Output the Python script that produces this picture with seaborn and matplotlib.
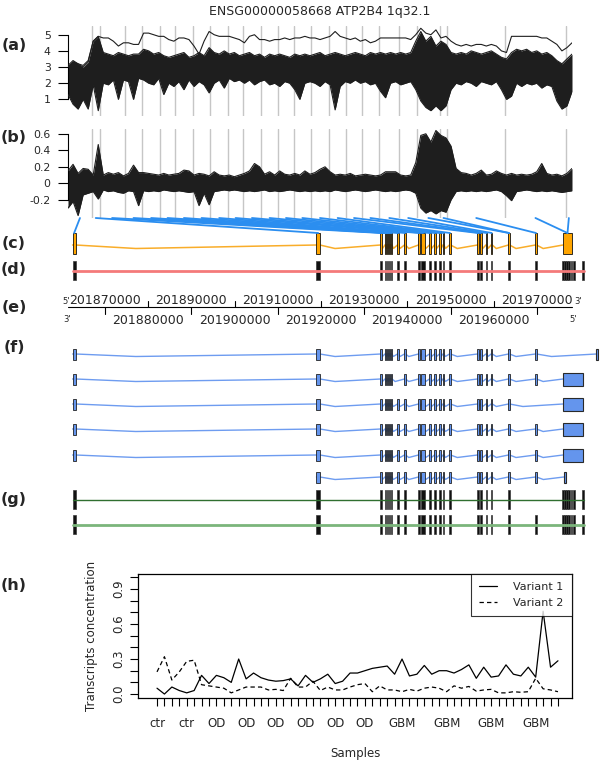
import numpy as np
import pandas as pd
import seaborn as sns
import matplotlib.pyplot as plt
from matplotlib.patches import Rectangle, ConnectionPatch

TITLE = "ENSG00000058668 ATP2B4 1q32.1"
PANEL_TAGS = ["(a)", "(b)", "(c)", "(d)", "(e)", "(f)", "(g)", "(h)"]

# --- (a) probe level signal: envelope of the sample curves + the one high sample
probe_pos = list(range(0, 201, 2))
sig_upper = [3.1, 3.4, 3.2, 3.0, 3.3, 4.6, 4.9, 3.9, 3.8, 3.7,
             3.9, 3.8, 3.7, 3.8, 3.8, 4.1, 4.0, 3.8, 3.9, 3.7,
             3.6, 3.7, 3.8, 3.9, 3.6, 3.7, 3.9, 3.7, 4.2, 3.9,
             3.8, 4.0, 3.8, 3.9, 3.7, 3.8, 3.9, 3.7, 3.8, 3.6,
             3.8, 3.7, 3.8, 3.7, 3.6, 3.8, 3.7, 3.8, 3.7, 3.8,
             3.9, 3.7, 3.8, 3.9, 3.8, 3.7, 3.8, 3.9, 3.8, 3.7,
             3.9, 3.8, 3.9, 3.8, 3.9, 3.8, 3.9, 3.8, 3.9, 4.6,
             5.2, 4.6, 4.9, 4.3, 4.6, 4.4, 3.9, 3.8, 3.9, 3.8,
             4.0, 3.9, 3.8, 3.9, 4.0, 3.8, 3.6, 3.5, 3.9, 4.1,
             4.0, 4.1, 3.9, 4.0, 3.8, 3.9, 3.7, 3.4, 3.2, 3.5,
             3.8]
sig_lower = [1.3, 0.7, 0.4, 1.0, 0.4, 1.9, 0.3, 2.0, 1.9, 2.2,
             1.0, 2.2, 2.1, 1.0, 2.3, 2.2, 2.0, 1.9, 2.3, 1.3,
             2.0, 1.8, 2.1, 1.6, 2.2, 1.8, 2.1, 1.9, 1.4, 2.0,
             2.2, 1.7, 2.3, 2.1, 2.2, 2.0, 2.2, 1.9, 2.1, 2.2,
             1.9, 2.0, 1.8, 2.1, 2.0, 1.6, 1.0, 2.0, 2.1, 2.0,
             1.8, 2.1, 1.9, 0.35, 1.8, 2.1, 2.0, 2.2, 2.0, 2.1,
             1.9, 2.0, 1.5, 1.1, 2.0, 2.1, 1.9, 2.0, 2.1, 1.6,
             0.9, 0.5, 0.3, 0.6, 0.3, 0.6, 1.6, 2.0, 1.9, 2.1,
             2.0, 1.8, 2.1, 2.0, 1.9, 2.1, 1.6, 1.0, 1.2, 2.0,
             1.8, 2.0, 1.9, 2.0, 1.7, 1.9, 1.8, 0.9, 0.4, 0.6,
             1.5]
sig_high = [3.0, 3.3, 3.2, 3.1, 3.4, 4.6, 4.9, 4.8, 4.8, 4.6,
            4.3, 4.5, 4.5, 4.4, 4.4, 5.1, 5.1, 5.0, 4.9, 4.9,
            4.7, 4.6, 4.8, 4.8, 4.7, 4.3, 3.8, 4.6, 5.2, 5.0,
            4.9, 4.9, 4.9, 4.8, 4.7, 4.5, 4.9, 5.0, 4.7, 4.7,
            4.6, 4.7, 4.7, 4.8, 4.7, 4.8, 4.8, 4.9, 4.8, 4.8,
            4.7, 4.8, 4.9, 5.2, 4.9, 4.8, 4.7, 4.8, 4.6, 4.7,
            4.5, 4.6, 4.8, 4.8, 4.8, 4.8, 4.8, 4.8, 4.7, 5.0,
            5.4, 5.1, 5.0, 5.3, 4.8, 4.9, 4.6, 4.4, 4.3, 4.4,
            4.3, 4.4, 4.4, 4.3, 4.4, 4.3, 4.0, 3.9, 4.9, 4.9,
            4.9, 4.9, 4.9, 4.9, 4.8, 4.8, 4.6, 4.4, 4.0, 4.2,
            4.5]

# --- (b) residuals: envelope of the sample curves
res_upper = [0.15, 0.23, 0.12, 0.18, 0.17, 0.10, 0.47, 0.10, 0.13, 0.11,
             0.13, 0.09, 0.12, 0.22, 0.13, 0.13, 0.12, 0.11, 0.10, 0.12,
             0.10, 0.11, 0.12, 0.16, 0.15, 0.10, 0.12, 0.11, 0.09, 0.14,
             0.10, 0.09, 0.10, 0.08, 0.10, 0.12, 0.15, 0.24, 0.20, 0.11,
             0.14, 0.10, 0.15, 0.11, 0.10, 0.12, 0.10, 0.15, 0.11, 0.13,
             0.17, 0.20, 0.14, 0.10, 0.11, 0.10, 0.12, 0.09, 0.10, 0.11,
             0.10, 0.09, 0.10, 0.14, 0.14, 0.14, 0.10, 0.09, 0.10, 0.25,
             0.58, 0.60, 0.50, 0.64, 0.58, 0.55, 0.45, 0.18, 0.13, 0.12,
             0.10, 0.12, 0.16, 0.10, 0.11, 0.15, 0.12, 0.10, 0.12, 0.10,
             0.11, 0.10, 0.11, 0.14, 0.24, 0.12, 0.10, 0.11, 0.09, 0.12,
             0.18]
res_lower = [-0.30, -0.22, -0.39, -0.14, -0.12, -0.10, -0.19, -0.08, -0.10, -0.09,
             -0.11, -0.12, -0.09, -0.10, -0.27, -0.09, -0.10, -0.09, -0.10, -0.08,
             -0.09, -0.10, -0.09, -0.10, -0.11, -0.10, -0.27, -0.12, -0.26, -0.10,
             -0.09, -0.08, -0.09, -0.08, -0.09, -0.10, -0.09, -0.10, -0.09, -0.08,
             -0.10, -0.09, -0.10, -0.09, -0.08, -0.09, -0.10, -0.09, -0.10, -0.09,
             -0.10, -0.09, -0.10, -0.08, -0.09, -0.10, -0.09, -0.08, -0.09, -0.10,
             -0.09, -0.08, -0.09, -0.10, -0.09, -0.10, -0.09, -0.08, -0.09, -0.12,
             -0.30, -0.36, -0.33, -0.37, -0.33, -0.35, -0.20, -0.10, -0.09, -0.10,
             -0.09, -0.10, -0.09, -0.10, -0.09, -0.08, -0.10, -0.15, -0.21, -0.10,
             -0.09, -0.08, -0.09, -0.10, -0.09, -0.10, -0.09, -0.10, -0.11, -0.10,
             -0.09]

# probe-index boundaries between exons (grey lines in a/b)
exon_bounds = [9.5, 12.5, 22.5, 29.5, 36.5, 42.5, 49.5, 56.5, 63.5, 69.5, 76.5, 83.5,
               89.5, 96.5, 103.5, 110.5, 116.5, 123.5, 131.5, 138.5, 147.5, 150.5,
               173.5, 197.5]
n_probes = 200

# --- genomic exon model (chr1, NCBI36)
gen_window = (201861435, 201978111)
gen_ticks = list(range(201870000, 201970001, 10000))
core_center = [201862850, 201919350, 201933896, 201934936, 201935399, 201935862,
               201936325, 201937830, 201939451, 201942692, 201943618, 201945238,
               201946396, 201947553, 201948363, 201949868, 201956350, 201957045,
               201958318, 201959522, 201963527, 201969777]
core_width = [700, 800, 250, 250, 250, 250, 250, 250, 250, 250, 700, 250,
              250, 250, 250, 250, 250, 250, 250, 250, 250, 250]
c_tail = (201976028, 201978111)
d_tail_center = [201976028, 201976491, 201976954, 201977417, 201977995, 201978574, 201980658]
f_tail_box = (201976028, 201980658)
f_row1_end = 201983899
f_row6_end = 201976491
f_row_skip = [[], [7], [21], [], [], [0]]
f_row_tail = ["tick", "box", "box", "box", "box", "small"]
g_row_skip = [[21], []]
# exon (index into c-track exons) reached by each probe segment
link_exon = [0, 1, 2, 3, 4, 5, 6, 7, 8, 9, 10, 11, 12, 13, 14, 15,
             16, 17, 18, 19, 20, 20, 21, 22, 22]

# --- (h) transcript concentrations per sample
sample_group = ["ctr"] * 6 + ["OD"] * 26 + ["GBM"] * 23
shown_labels = [0, 4, 8, 12, 16, 20, 24, 28, 33, 39, 45, 51]
variant1 = [0.05, 0.00, 0.06, 0.03, 0.01, 0.03, 0.16, 0.09, 0.16, 0.14, 0.10,
            0.30, 0.13, 0.18, 0.14, 0.12, 0.11, 0.115, 0.13, 0.07, 0.16, 0.10,
            0.13, 0.17, 0.09, 0.11, 0.18, 0.18, 0.20, 0.22, 0.23, 0.24, 0.17,
            0.30, 0.155, 0.17, 0.245, 0.17, 0.20, 0.20, 0.18, 0.21, 0.25, 0.135,
            0.23, 0.145, 0.155, 0.25, 0.17, 0.155, 0.23, 0.145, 0.71, 0.23, 0.285]
variant2 = [0.19, 0.32, 0.12, 0.19, 0.28, 0.29, 0.08, 0.07, 0.06, 0.05, 0.01,
            0.035, 0.06, 0.06, 0.06, 0.035, 0.04, 0.03, 0.135, 0.06, 0.06, 0.11,
            0.03, 0.06, 0.035, 0.035, 0.06, 0.08, 0.09, 0.02, 0.07, 0.035, 0.035,
            0.02, 0.04, 0.025, 0.05, 0.06, 0.05, 0.02, 0.07, 0.05, 0.065, 0.025,
            0.035, 0.04, 0.01, 0.01, 0.02, 0.015, 0.02, 0.135, 0.045, 0.035, 0.02]

sns.set_theme(style="ticks")
plt.rcParams['font.family'] = ['DejaVu Sans']

W, H = 600, 761
INK = '#1e1e1e'


def px_box(x0, y0, x1, y1):
    return [x0 / W, 1 - y1 / H, (x1 - x0) / W, (y1 - y0) / H]


fig = plt.figure(figsize=(6, 7.61), dpi=100)
ax_a = fig.add_axes(px_box(68, 26, 572, 116))
ax_b = fig.add_axes(px_box(68, 129, 572, 218))
ax_g = fig.add_axes(px_box(0, 218, 600, 545))
ax_h = fig.add_axes(px_box(138, 574, 572, 698))

fig.text(320 / W, 1 - 12 / H, TITLE, ha='center', va='center', fontsize=9)
for tag, y in zip(PANEL_TAGS, [45, 138, 244, 270, 307, 347, 499, 585]):
    fig.text(14 / W, 1 - y / H, tag, ha='center', va='center', fontsize=11.5, fontweight='bold')

# ---- (a) and (b)
for ax in (ax_a, ax_b):
    for b in exon_bounds:
        ax.axvline(b, color='#c6c6c6', lw=1, zorder=0)
    ax.set_xlim(0, n_probes)
    for s in ['top', 'right', 'bottom']:
        ax.spines[s].set_visible(False)
    ax.set_xticks([])
    ax.tick_params(axis='y', length=7, width=0.8, pad=5.5, labelsize=7.8, color='black')
    ax.spines['left'].set_linewidth(0.8)
    ax.spines['left'].set_color('black')

ax_a.fill_between(probe_pos, sig_lower, sig_upper, color=INK, lw=0, zorder=2)
for series in (sig_upper, sig_lower, sig_high):
    sns.lineplot(x=probe_pos, y=series, ax=ax_a, color=INK, lw=0.8, estimator=None, zorder=3)
ax_a.set_ylim(-0.03, 5.54)
ax_a.set_yticks([1, 2, 3, 4, 5])
ax_a.set_yticklabels(['1', '2', '3', '4', '5'])
ax_a.spines['left'].set_bounds(1, 5)

ax_b.fill_between(probe_pos, res_lower, res_upper, color=INK, lw=0, zorder=2)
for series in (res_upper, res_lower):
    sns.lineplot(x=probe_pos, y=series, ax=ax_b, color=INK, lw=0.8, estimator=None, zorder=3)
ax_b.set_ylim(-0.42, 0.658)
ax_b.set_yticks([-0.2, 0, 0.2, 0.4, 0.6])
ax_b.set_yticklabels(['-0.2', '0', '0.2', '0.4', '0.6'])
ax_b.spines['left'].set_bounds(-0.2, 0.6)

# ---- gene tracks (c)-(g): x in genomic coordinates, y in layout rows
scale = (572 - 68) / (gen_window[1] - gen_window[0])
ax_g.set_xlim(gen_window[0] - 68 / scale, gen_window[0] + (W - 68) / scale)
ax_g.set_ylim(545, 218)
ax_g.axis('off')

core_spans = [(c - w / 2, c + w / 2) for c, w in zip(core_center, core_width)]
thin = 250


def draw_exons(spans, yc, h, face, edge, lw=0.7, z=3):
    for s, e in spans:
        ax_g.add_patch(Rectangle((s, yc - h / 2), e - s, h, facecolor=face,
                                 edgecolor=edge, lw=lw, zorder=z))


def draw_introns(spans, yc, dip, color, lw):
    xs, ys = [], []
    for (s0, e0), (s1, e1) in zip(spans[:-1], spans[1:]):
        xs += [s0, e0, e0 + (s1 - e0) / 4]
        ys += [yc, yc, yc + dip]
    xs += [spans[-1][0], spans[-1][1]]
    ys += [yc, yc]
    ax_g.plot(xs, ys, color=color, lw=lw, zorder=2, solid_joinstyle='miter')


# (c) probed exons
c_spans = core_spans + [c_tail]
draw_introns(c_spans, 245, 3.5, '#f9ad2a', 1.1)
draw_exons(c_spans, 243.5, 21, '#ffa500', '#111111', 0.6)

# links between probe segments and exons
edges = [0] + exon_bounds + [n_probes]
for k, ex in enumerate(link_exon):
    mid = (edges[k] + edges[k + 1]) / 2
    s, e = c_spans[ex]
    con = ConnectionPatch(xyA=(mid, 0), coordsA=ax_b.get_xaxis_transform(),
                          xyB=((s + e) / 2, 233), coordsB=ax_g.transData,
                          color='#2b8ef0', lw=1.3)
    fig.add_artist(con)

# (d) annotated exons
d_spans = core_spans + [(c - thin / 2, c + thin / 2) for c in d_tail_center]
draw_exons(d_spans, 270.4, 19, '#111111', '#3a3a3a', 0.5)
ax_g.plot([d_spans[0][0], d_spans[-1][1]], [270.7, 270.7], color='#f47a7a', lw=2, zorder=4)

# (e) genomic axis
ax_g.plot(gen_window, [307, 307], color='black', lw=0.8)
for k, t in enumerate(gen_ticks):
    if k % 2 == 0:
        ax_g.plot([t, t], [307, 314], color='black', lw=0.8)
        ax_g.text(t, 300, str(t), ha='center', va='center', fontsize=9)
    else:
        ax_g.plot([t, t], [301, 307], color='black', lw=0.8)
        ax_g.text(t, 320.5, str(t), ha='center', va='center', fontsize=9)
ax_g.text(gen_window[0] - 1200, 302, "5'", ha='left', va='center', fontsize=6)
ax_g.text(gen_window[0] - 1200, 319, "3'", ha='left', va='center', fontsize=6)
ax_g.text(gen_window[1] + 1500, 301, "3'", ha='center', va='center', fontsize=6)
ax_g.text(gen_window[1] + 300, 319, "5'", ha='center', va='center', fontsize=6)

# (f) transcripts
for yc, skip, tail in zip([354, 379, 404, 429, 455, 477], f_row_skip, f_row_tail):
    spans = [sp for i, sp in enumerate(core_spans) if i not in skip]
    if tail == "tick":
        end = [(f_row1_end - 120, f_row1_end + 120)]
        hh = 11
    elif tail == "box":
        end = [f_tail_box]
        hh = 13
    else:
        end = [(f_row6_end - 300, f_row6_end + 300)]
        hh = 11
    draw_introns(spans + end, yc, 2.5, '#6e9cf0', 1.0)
    draw_exons(spans, yc, 11, '#6495ed', '#222222', 0.6)
    draw_exons(end, yc, hh, '#6495ed', '#2a2a2a', 0.8)

# (g) gene models
for yc, skip, col, lw in zip([499.5, 524.5], g_row_skip, ['#2f6f2f', '#7bb57b'], [1.0, 2.0]):
    spans = [sp for i, sp in enumerate(core_spans) if i not in skip]
    spans += [(c - thin / 2, c + thin / 2) for c in d_tail_center]
    draw_exons(spans, yc, 19, '#111111', '#3a3a3a', 0.5)
    ax_g.plot([spans[0][0], spans[-1][1]], [yc, yc], color=col, lw=lw, zorder=4)

# ---- (h) transcript concentrations
n = len(variant1)
conc = pd.DataFrame({
    'sample': list(range(n)) * 2,
    'value': variant1 + variant2,
    'variant': ['Variant 1'] * n + ['Variant 2'] * n,
})
sns.lineplot(data=conc, x='sample', y='value', style='variant',
             dashes={'Variant 1': '', 'Variant 2': (3.5, 2.5)},
             color='black', lw=0.9, ax=ax_h, legend=False, estimator=None)
ax_h.set_xlim(-2.56, 55.89)
ax_h.set_ylim(-0.034, 1.029)
ax_h.set_xticks(range(n))
ax_h.set_xticklabels([g if i in shown_labels else '' for i, g in enumerate(sample_group)])
yt = [0.0, 0.1, 0.2, 0.3, 0.4, 0.5, 0.6, 0.7, 0.8, 0.9, 1.0]
ax_h.set_yticks(yt)
ax_h.set_yticklabels(['0.0', '', '', '0.3', '', '', '0.6', '', '', '0.9', ''],
                     rotation=90, va='center')
ax_h.tick_params(axis='x', length=6, width=0.8, pad=7.5, labelsize=8.5, color='black')
ax_h.tick_params(axis='y', length=5.5, width=0.8, pad=4, labelsize=8.5, color='black')
ax_h.set_xlabel('')
ax_h.set_ylabel('')
for s in ax_h.spines.values():
    s.set_linewidth(0.9)
    s.set_color('black')
leg = ax_h.legend(handles=ax_h.lines[:2], labels=['Variant 1', 'Variant 2'],
                  loc='upper right', borderaxespad=0, fancybox=False, frameon=True,
                  edgecolor='black', fontsize=8, handlelength=1.6, handletextpad=1.5,
                  borderpad=0.75, labelspacing=0.5)
leg.get_frame().set_linewidth(0.8)
fig.text(91 / W, 1 - 636 / H, 'Transcripts concentration', rotation=90,
         ha='center', va='center', fontsize=8.5)
fig.text(355 / W, 1 - 753 / H, 'Samples', ha='center', va='center', fontsize=8.5)

fig.savefig('out.png', dpi=100)
